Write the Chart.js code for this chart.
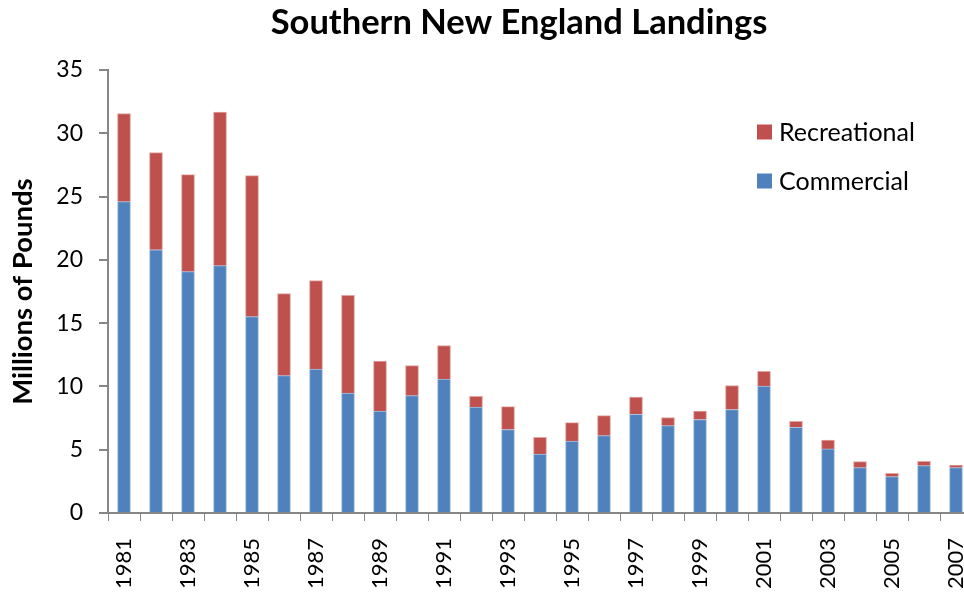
<!DOCTYPE html>
<html>
<head>
<meta charset="utf-8">
<script src="https://cdn.jsdelivr.net/npm/chart.js@4/dist/chart.umd.min.js"></script>
<style>
  html, body { margin: 0; padding: 0; background: #fff; overflow: hidden; }
  #wrap { position: relative; width: 1038px; height: 593px; }
</style>
</head>
<body>
<div id="wrap"><canvas id="c"></canvas></div>
<script>
const years = ['1981','1982','1983','1984','1985','1986','1987','1988','1989','1990','1991','1992','1993','1994','1995','1996','1997','1998','1999','2000','2001','2002','2003','2004','2005','2006','2007'];
const commercial = [24.6, 20.8, 19.07, 19.54, 15.51, 10.85, 11.37, 9.48, 8.06, 9.27, 10.58, 8.37, 6.59, 4.66, 5.69, 6.11, 7.8, 6.9, 7.38, 8.17, 10.03, 6.77, 5.06, 3.58, 2.87, 3.74, 3.58];
const recreational = [6.95, 7.67, 7.66, 12.13, 11.14, 6.48, 6.99, 7.72, 3.94, 2.37, 2.64, 0.85, 1.81, 1.32, 1.45, 1.58, 1.36, 0.63, 0.68, 1.89, 1.16, 0.47, 0.71, 0.48, 0.27, 0.34, 0.21];
const yTicks = [0, 5, 10, 15, 20, 25, 30, 35];

const FONT = 'Lato, "Open Sans", sans-serif';

const insideLegend = {
  id: 'insideLegend',
  afterDraw(chart) {
    const ctx = chart.ctx;
    const items = chart.data.datasets.slice().reverse();
    ctx.save();
    ctx.font = '25px ' + FONT;
    ctx.textBaseline = 'middle';
    ctx.textAlign = 'left';
    items.forEach((ds, i) => {
      const cy = 132 + i * 49;
      ctx.fillStyle = ds.backgroundColor;
      ctx.fillRect(757, cy - 7.5, 15, 15);
      ctx.fillStyle = '#000';
      ctx.fillText(ds.label, 779, cy + 1);
    });
    ctx.restore();
  }
};

new Chart(document.getElementById('c'), {
  type: 'bar',
  data: {
    labels: years,
    datasets: [
      { label: 'Commercial', data: commercial, backgroundColor: '#4F81BD', borderColor: '#A9C0DE', borderWidth: 1, barThickness: 13 },
      { label: 'Recreational', data: recreational, backgroundColor: '#C0504D', borderColor: '#E2A3A1', borderWidth: 1, barThickness: 13 }
    ]
  },
  options: {
    responsive: true,
    maintainAspectRatio: false,
    animation: false,
    layout: { padding: { left: 0, right: 0, top: 0, bottom: 0 } },
    plugins: {
      legend: { display: false },
      tooltip: { enabled: false },
      title: {
        display: true,
        text: 'Southern New England Landings',
        color: '#000',
        font: { family: FONT, size: 34.5, weight: 'bold', lineHeight: 1.2 },
        padding: { top: 2, bottom: 26.6 }
      }
    },
    scales: {
      x: {
        stacked: true,
        offset: true,
        grid: { display: true, drawOnChartArea: false, drawTicks: true, tickLength: 8, color: '#868686', lineWidth: 1, offset: true },
        border: { display: true, color: '#868686', width: 2 },
        ticks: {
          autoSkip: false,
          minRotation: 90,
          maxRotation: 90,
          padding: 17,
          color: '#000',
          font: { family: FONT, size: 22 },
          callback: function(val, i) { return i % 2 === 0 ? this.getLabelForValue(val) : ''; }
        },
        afterFit(scale) { scale.height = 80; scale.paddingLeft = 0; scale.paddingRight = 66; }
      },
      y: {
        stacked: true,
        min: 0,
        max: 35,
        afterBuildTicks(scale) { scale.ticks = yTicks.map(v => ({ value: v })); },
        grid: { display: true, drawOnChartArea: false, drawTicks: true, tickLength: 9, color: '#868686', lineWidth: 2 },
        border: { display: true, color: '#868686', width: 2 },
        ticks: { color: '#000', padding: 16, font: { family: FONT, size: 23 } },
        title: {
          display: true,
          text: 'Millions of Pounds',
          color: '#000',
          font: { family: FONT, size: 27.5, weight: 'bold', lineHeight: 1.2 },
          padding: { top: 7, bottom: 0 }
        },
        afterFit(scale) { scale.width = 108; }
      }
    }
  },
  plugins: [insideLegend]
});
</script>
</body>
</html>
